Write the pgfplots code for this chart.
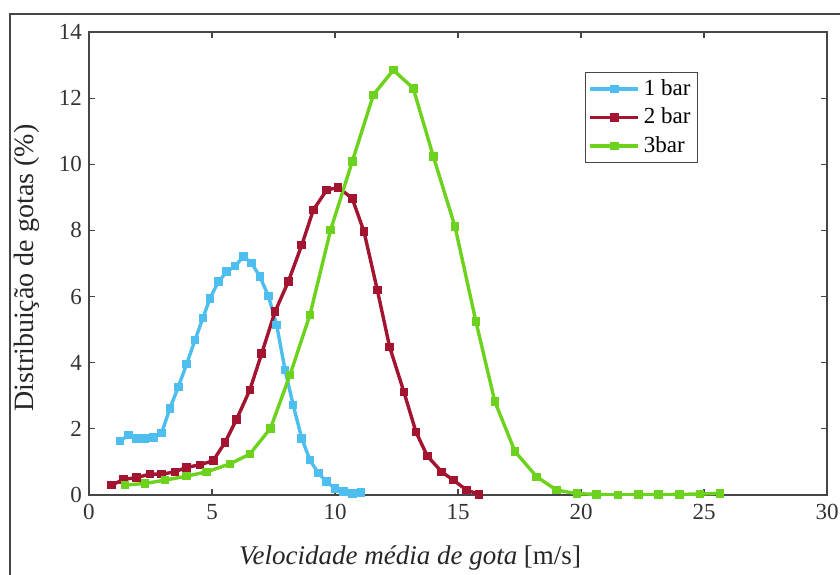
\documentclass[border=0pt]{standalone}
\usepackage{pgfplots}
\pgfplotsset{compat=1.18}
\usepackage{fontspec}
\setmainfont{Liberation Serif}
\definecolor{cblue}{RGB}{77,190,238}
\definecolor{cred}{RGB}{162,20,47}
\definecolor{cgreen}{RGB}{108,210,30}
\definecolor{caxis}{RGB}{70,70,70}
\begin{document}
\begin{tikzpicture}
\useasboundingbox (-44.5pt,-39.5pt) rectangle (375.5pt,247.5pt);
\draw[caxis, line width=0.7pt] (-39.5pt,-45pt) -- (-39.5pt,240.5pt) -- (380pt,240.5pt);
\begin{axis}[
  scale only axis,
  width=369pt, height=231.5pt,
  xmin=0, xmax=30, ymin=0, ymax=14,
  xtick={0,5,...,30}, ytick={0,2,...,14},
  tick pos=both, tick align=inside,
  major tick length=3pt,
  axis line style={caxis, line width=0.7pt},
  every tick/.style={caxis, line width=0.6pt},
  /pgf/number format/assume math mode=true,
  tick label style={font=\fontsize{11.5}{13}\selectfont, text=black!80},
  xticklabel style={yshift=-1pt},
  xlabel={\textit{Velocidade média de gota} [m/s]},
  xlabel style={at={(axis description cs:0.435,-0.151)}, anchor=base, font=\fontsize{13.5}{15}\selectfont, text=black!85},
  ylabel={Distribuição de gotas (\%)},
  ylabel style={at={(axis description cs:-0.084,0.49)}, anchor=center, font=\fontsize{14}{16}\selectfont, text=black!85},
  legend style={at={(axis description cs:0.672,0.914)}, anchor=north west,
    draw=caxis, line width=0.6pt, font=\fontsize{11.5}{13}\selectfont,
    inner sep=1.5pt, row sep=0.8pt, cells={anchor=west}},
  legend cell align=left,
  legend image code/.code={\draw[mark repeat=2,mark phase=2] plot coordinates {(0pt,0pt)(12pt,0pt)(24pt,0pt)};},
  every axis plot/.append style={line width=1.7pt, mark=square*, mark size=1.3pt, mark options={solid}},
]
\addplot[cblue, mark options={fill=cblue}] coordinates {
(1.26,1.63) (1.60,1.81) (1.94,1.71) (2.28,1.71) (2.61,1.73) (2.95,1.87)
(3.29,2.62) (3.63,3.27) (3.97,3.96) (4.31,4.69) (4.63,5.35) (4.92,5.95)
(5.26,6.45) (5.60,6.75) (5.94,6.92) (6.27,7.21) (6.61,7.01) (6.95,6.60)
(7.29,6.02) (7.63,5.14) (7.97,3.78) (8.30,2.72) (8.65,1.71) (8.98,1.06)
(9.32,0.66) (9.66,0.40) (10.00,0.20) (10.34,0.10) (10.70,0.05) (11.05,0.07)
};
\addlegendentry{1 bar}
\addplot[cred, mark options={fill=cred}] coordinates {
(0.92,0.30) (1.40,0.47) (1.94,0.53) (2.48,0.63) (2.95,0.63) (3.50,0.70)
(3.97,0.84) (4.51,0.91) (5.05,1.04) (5.53,1.59) (6.00,2.29) (6.54,3.18)
(7.02,4.28) (7.56,5.54) (8.10,6.45) (8.65,7.56) (9.12,8.62) (9.66,9.22)
(10.13,9.30) (10.70,8.97) (11.18,7.96) (11.72,6.20) (12.22,4.48) (12.80,3.12)
(13.29,1.91) (13.75,1.18) (14.34,0.70) (14.81,0.45) (15.35,0.15) (15.85,0.02)
};
\addlegendentry{2 bar}
\addplot[cgreen, mark options={fill=cgreen}] coordinates {
(1.46,0.30) (2.28,0.35) (3.09,0.45) (3.97,0.57) (4.78,0.70) (5.73,0.94)
(6.54,1.24) (7.38,2.02) (8.17,3.63) (8.98,5.44) (9.82,8.01) (10.70,10.08)
(11.56,12.10) (12.37,12.85) (13.18,12.30) (14.00,10.23) (14.88,8.11) (15.73,5.24)
(16.50,2.82) (17.32,1.31) (18.20,0.55) (19.01,0.15) (19.83,0.04) (20.64,0.02)
(21.50,0.00) (22.33,0.01) (23.14,0.01) (24.00,0.02) (24.84,0.03) (25.65,0.05)
};
\addlegendentry{3bar}
\end{axis}
\end{tikzpicture}
\end{document}
